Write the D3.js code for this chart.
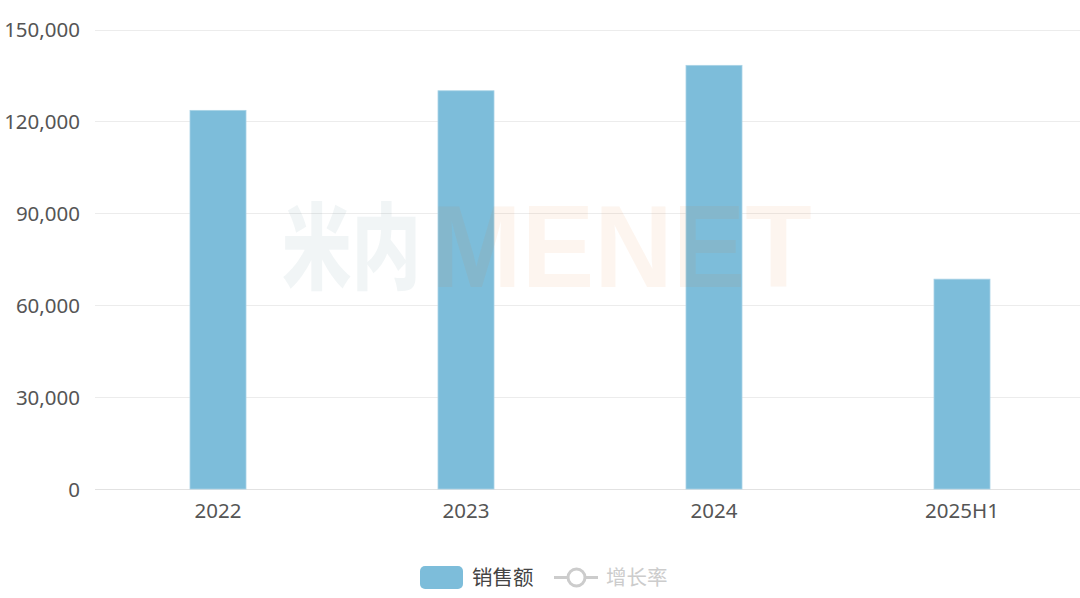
<!DOCTYPE html>
<html><head><meta charset="utf-8">
<script src="https://cdn.jsdelivr.net/npm/d3@7"></script>
<style>html,body{margin:0;padding:0;background:#fff;}svg{display:block;}</style>
</head><body>
<svg id="c" width="1080" height="598"></svg>
<script>
const categories = ["2022", "2023", "2024", "2025H1"];
const sales = [123600, 130000, 138300, 68500];
const yTicks = [0, 30000, 60000, 90000, 120000, 150000];
const legendLabels = ["销售额", "增长率"];

const W = 1080, H = 598;
const svg = d3.select("#c");
const font = "'Noto Sans','Noto Sans CJK SC',sans-serif";

const x = d3.scaleBand().domain(categories).range([94, 1086]).paddingInner(0).paddingOuter(0);
const y = d3.scaleLinear().domain([0, 150000]).range([489, 29.5]);

// grid
const yAxis = d3.axisLeft(y).tickValues(yTicks).tickSize(0).tickPadding(0)
  .tickFormat(d3.format(","));
const gy = svg.append("g").attr("transform", "translate(80,0)").call(yAxis);
gy.select(".domain").remove();
gy.selectAll("text").attr("font-family", font).attr("font-size", 20.5).attr("fill", "#555").attr("dy", "0.35em");

svg.append("g").selectAll("line").data(yTicks).join("line")
  .attr("x1", 95).attr("x2", 1080)
  .attr("y1", d => Math.round(y(d)) + 0.5).attr("y2", d => Math.round(y(d)) + 0.5)
  .attr("stroke", d => d === 0 ? "#e2e2e2" : "#ececec").attr("stroke-width", 1.2);

// bars
const bw = 56;
svg.append("g").selectAll("rect").data(sales).join("rect")
  .attr("x", (d, i) => x(categories[i]) + x.bandwidth() / 2 - bw / 2)
  .attr("width", bw)
  .attr("y", d => y(d))
  .attr("height", d => y(0) - y(d))
  .attr("fill", "#7dbdda")
  .attr("stroke", "#a9d3e6").attr("stroke-width", 0.8);

// x axis labels
const xAxis = d3.axisBottom(x).tickSize(0).tickPadding(0);
const gx = svg.append("g").attr("transform", "translate(0,510.5)").call(xAxis);
gx.select(".domain").remove();
gx.selectAll("text").attr("font-family", font).attr("font-size", 20.5).attr("fill", "#555").attr("dy", "0.35em");

// watermark (overlay)
const wm = svg.append("g").attr("pointer-events", "none");
wm.append("g").attr("transform", "translate(282,282) scale(0.74,1)")
  .append("text").text("米内").attr("x", 0).attr("y", 0)
  .attr("font-family", "'Noto Sans CJK SC',sans-serif").attr("font-weight", 900)
  .attr("font-size", 94)
  .attr("fill", "rgb(40,100,125)").attr("fill-opacity", 0.065);
wm.append("g").attr("transform", "translate(431,287) scale(0.93,1)")
  .append("text").text("MENET").attr("x", 0).attr("y", 0)
  .attr("font-family", "'Liberation Sans',Arial,sans-serif").attr("font-weight", 700)
  .attr("font-size", 117)
  .attr("fill", "rgb(233,122,44)").attr("fill-opacity", 0.075);

// legend
const lg = svg.append("g");
lg.append("rect").attr("x", 420).attr("y", 566).attr("width", 43).attr("height", 23).attr("rx", 5)
  .attr("fill", "#7dbdda");
lg.append("text").text(legendLabels[0]).attr("x", 472).attr("y", 577.5).attr("dy", "0.35em")
  .attr("font-family", font).attr("font-size", 20.5).attr("fill", "#444");
lg.append("line").attr("x1", 554).attr("x2", 598).attr("y1", 577.5).attr("y2", 577.5)
  .attr("stroke", "#ccc").attr("stroke-width", 3);
lg.append("circle").attr("cx", 576.5).attr("cy", 577.5).attr("r", 8.5)
  .attr("fill", "#fff").attr("stroke", "#ccc").attr("stroke-width", 3);
lg.append("text").text(legendLabels[1]).attr("x", 606).attr("y", 577.5).attr("dy", "0.35em")
  .attr("font-family", font).attr("font-size", 20.5).attr("fill", "#ccc");
</script>
</body></html>
